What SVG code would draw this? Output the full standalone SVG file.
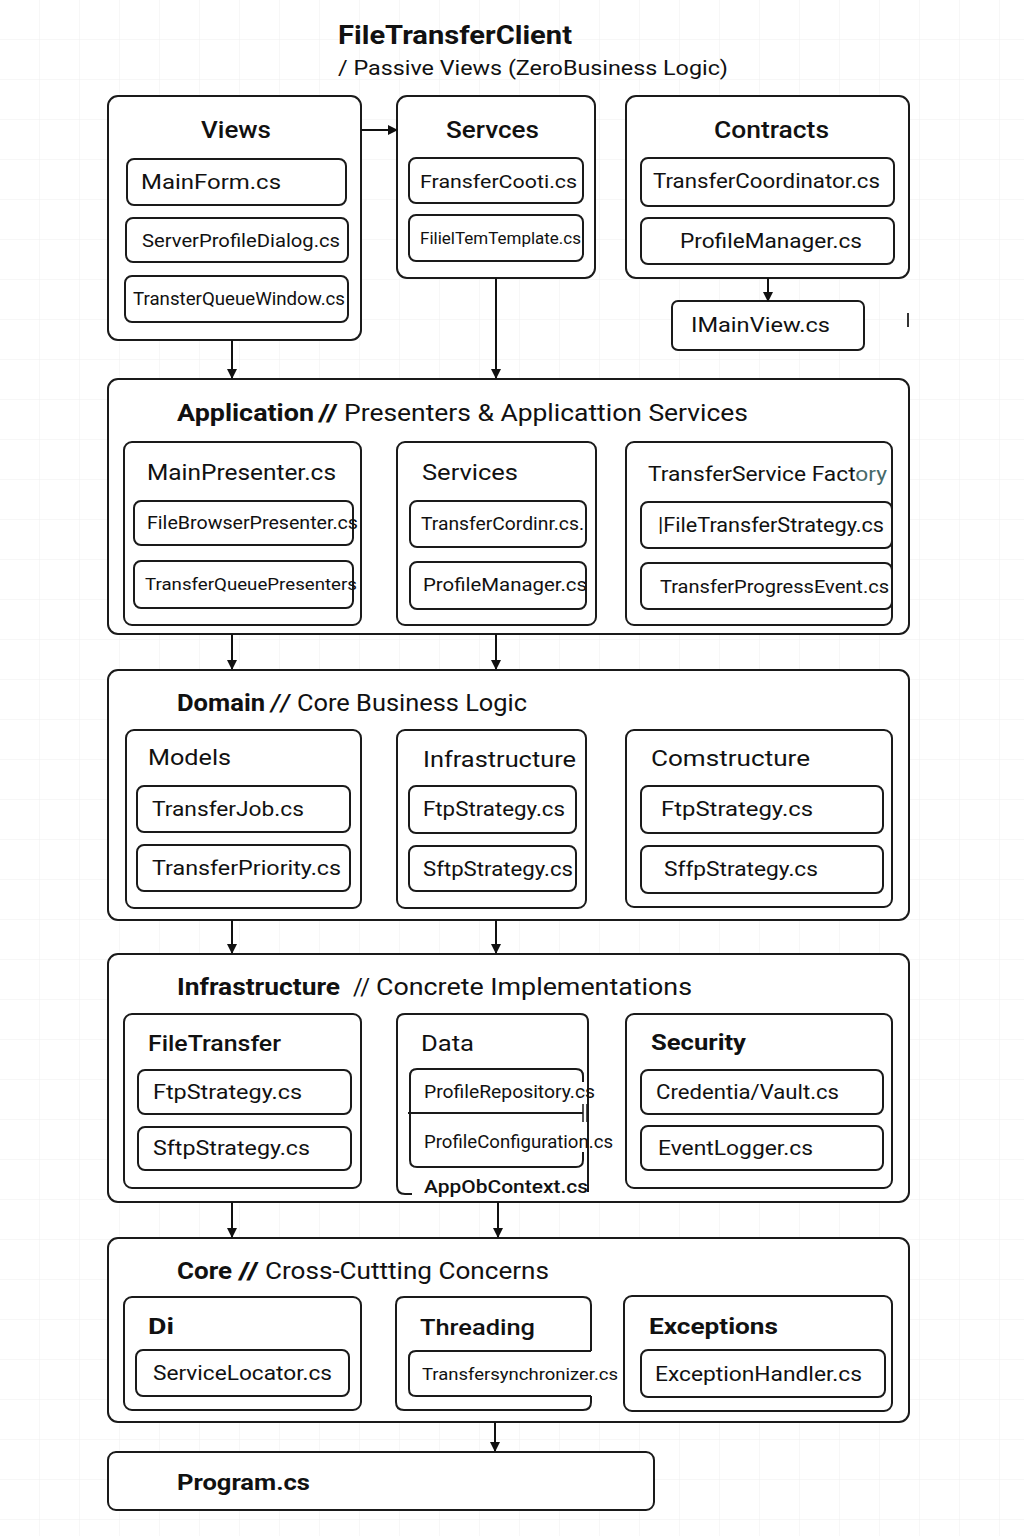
<svg xmlns="http://www.w3.org/2000/svg" width="1024" height="1536" viewBox="0 0 1024 1536">
<defs>
<pattern id="grid" width="40" height="40" patternUnits="userSpaceOnUse">
<path d="M40 0V40M0 40H40" fill="none" stroke="#efefef" stroke-width="1"/>
</pattern>
<marker id="arr" markerWidth="10" markerHeight="10" refX="9" refY="5" orient="auto" markerUnits="userSpaceOnUse">
<path d="M0 0L10 5L0 10Z" fill="#111"/>
</marker>
<style>
.box{fill:#fff;stroke:#1a1a1a;stroke-width:2}
.open{fill:none;stroke:#1a1a1a;stroke-width:2}
.t{font-family:Roboto,"Noto Sans","Liberation Sans",sans-serif;fill:#111}
.b{font-weight:bold}
.m{font-weight:500}
.c{stroke:#111;stroke-width:2;fill:none;marker-end:url(#arr)}
</style>
</defs>
<rect width="1024" height="1536" fill="#fff"/>
<rect width="1024" height="1536" fill="url(#grid)"/>

<g id="title">
<text class="t b" x="338" y="44" font-size="26" textLength="234" lengthAdjust="spacingAndGlyphs">FileTransferClient</text>
<text class="t" x="338" y="75" font-size="21" textLength="390" lengthAdjust="spacingAndGlyphs">/ Passive Views (ZeroBusiness Logic)</text>
</g>

<g id="views">
<rect class="box" x="108" y="96" width="253" height="244" rx="10"/>
<text class="t m" x="201" y="138" font-size="23" textLength="70" lengthAdjust="spacingAndGlyphs">Views</text>
<rect class="box" x="127" y="159" width="219" height="46" rx="7"/>
<text class="t" x="141" y="189" font-size="21" textLength="140" lengthAdjust="spacingAndGlyphs">MainForm.cs</text>
<rect class="box" x="126" y="218" width="222" height="44" rx="7"/>
<text class="t" x="142" y="247" font-size="19" textLength="198" lengthAdjust="spacingAndGlyphs">ServerProfileDialog.cs</text>
<rect class="box" x="125" y="276" width="223" height="46" rx="7"/>
<text class="t" x="133" y="305" font-size="18" textLength="212" lengthAdjust="spacingAndGlyphs">TransterQueueWindow.cs</text>
</g>

<g id="servces">
<rect class="box" x="397" y="96" width="198" height="182" rx="10"/>
<text class="t m" x="446" y="138" font-size="23" textLength="93" lengthAdjust="spacingAndGlyphs">Servces</text>
<rect class="box" x="409" y="158" width="174" height="45" rx="7"/>
<text class="t" x="420" y="188" font-size="19" textLength="157" lengthAdjust="spacingAndGlyphs">FransferCooti.cs</text>
<rect class="box" x="409" y="215" width="174" height="46" rx="7"/>
<text class="t" x="420" y="244" font-size="17" textLength="161" lengthAdjust="spacingAndGlyphs">FilielTemTemplate.cs</text>
</g>

<g id="contracts">
<rect class="box" x="626" y="96" width="283" height="182" rx="10"/>
<text class="t m" x="714" y="138" font-size="23" textLength="115" lengthAdjust="spacingAndGlyphs">Contracts</text>
<rect class="box" x="641" y="158" width="253" height="48" rx="7"/>
<text class="t" x="653" y="188" font-size="20" textLength="227" lengthAdjust="spacingAndGlyphs">TransferCoordinator.cs</text>
<rect class="box" x="641" y="218" width="253" height="46" rx="7"/>
<text class="t" x="680" y="248" font-size="21" textLength="182" lengthAdjust="spacingAndGlyphs">ProfileManager.cs</text>
</g>

<g id="imainview">
<rect class="box" x="672" y="301" width="192" height="49" rx="6"/>
<text class="t" x="691" y="332" font-size="21" textLength="139" lengthAdjust="spacingAndGlyphs">IMainView.cs</text>
<line x1="908" y1="313" x2="908" y2="327" stroke="#333" stroke-width="2"/>
</g>

<g id="application">
<rect class="box" x="108" y="379" width="801" height="255" rx="10"/>
<text class="t" x="177" y="421" font-size="23"><tspan class="b" textLength="137" lengthAdjust="spacingAndGlyphs">Application</tspan><tspan class="b" x="318" textLength="20" lengthAdjust="spacingAndGlyphs">//</tspan><tspan x="344" textLength="404" lengthAdjust="spacingAndGlyphs">Presenters &amp; Applicattion Services</tspan></text>
<rect class="box" x="124" y="442" width="237" height="183" rx="8"/>
<text class="t" x="147" y="480" font-size="22" textLength="189" lengthAdjust="spacingAndGlyphs">MainPresenter.cs</text>
<rect class="box" x="134" y="501" width="219" height="44" rx="7"/>
<text class="t" x="147" y="529" font-size="18" textLength="211" lengthAdjust="spacingAndGlyphs">FileBrowserPresenter.cs</text>
<rect class="box" x="134" y="561" width="219" height="47" rx="7"/>
<text class="t" x="145" y="590" font-size="17" textLength="212" lengthAdjust="spacingAndGlyphs">TransferQueuePresenters</text>
<rect class="box" x="397" y="442" width="199" height="183" rx="8"/>
<text class="t" x="422" y="480" font-size="22" textLength="96" lengthAdjust="spacingAndGlyphs">Services</text>
<rect class="box" x="410" y="501" width="176" height="46" rx="7"/>
<text class="t" x="421" y="530" font-size="18" textLength="163" lengthAdjust="spacingAndGlyphs">TransferCordinr.cs.</text>
<rect class="box" x="410" y="562" width="176" height="47" rx="7"/>
<text class="t" x="423" y="591" font-size="19" textLength="164" lengthAdjust="spacingAndGlyphs">ProfileManager.cs</text>
<rect class="box" x="626" y="442" width="266" height="183" rx="8"/>
<text class="t" x="648" y="481" font-size="21" textLength="239" lengthAdjust="spacingAndGlyphs">TransferService Fact<tspan fill="#466a6a">ory</tspan></text>
<rect class="box" x="641" y="502" width="251" height="46" rx="7"/>
<text class="t" x="658" y="532" font-size="20" textLength="226" lengthAdjust="spacingAndGlyphs">|FileTransferStrategy.cs</text>
<rect class="box" x="641" y="563" width="251" height="46" rx="7"/>
<text class="t" x="660" y="593" font-size="19" textLength="229" lengthAdjust="spacingAndGlyphs">TransferProgressEvent.cs</text>
</g>

<g id="domain">
<rect class="box" x="108" y="670" width="801" height="250" rx="10"/>
<text class="t" x="177" y="711" font-size="23"><tspan class="b" textLength="88" lengthAdjust="spacingAndGlyphs">Domain</tspan><tspan x="269" textLength="23" lengthAdjust="spacingAndGlyphs">//</tspan><tspan x="297" textLength="230" lengthAdjust="spacingAndGlyphs">Core Business Logic</tspan></text>
<rect class="box" x="126" y="730" width="235" height="178" rx="8"/>
<text class="t" x="148" y="765" font-size="22" textLength="83" lengthAdjust="spacingAndGlyphs">Models</text>
<rect class="box" x="137" y="786" width="213" height="46" rx="7"/>
<text class="t" x="152" y="816" font-size="21" textLength="152" lengthAdjust="spacingAndGlyphs">TransferJob.cs</text>
<rect class="box" x="137" y="845" width="213" height="46" rx="7"/>
<text class="t" x="152" y="875" font-size="21" textLength="189" lengthAdjust="spacingAndGlyphs">TransferPriority.cs</text>
<rect class="box" x="397" y="730" width="189" height="178" rx="8"/>
<text class="t" x="423" y="767" font-size="22" textLength="153" lengthAdjust="spacingAndGlyphs">Infrastructure</text>
<rect class="box" x="409" y="786" width="167" height="47" rx="7"/>
<text class="t" x="423" y="816" font-size="20" textLength="142" lengthAdjust="spacingAndGlyphs">FtpStrategy.cs</text>
<rect class="box" x="409" y="846" width="167" height="45" rx="7"/>
<text class="t" x="423" y="876" font-size="20" textLength="150" lengthAdjust="spacingAndGlyphs">SftpStrategy.cs</text>
<rect class="box" x="626" y="730" width="266" height="177" rx="8"/>
<text class="t" x="651" y="766" font-size="22" textLength="159" lengthAdjust="spacingAndGlyphs">Comstructure</text>
<rect class="box" x="641" y="786" width="242" height="47" rx="7"/>
<text class="t" x="661" y="816" font-size="20" textLength="152" lengthAdjust="spacingAndGlyphs">FtpStrategy.cs</text>
<rect class="box" x="641" y="846" width="242" height="47" rx="7"/>
<text class="t" x="664" y="876" font-size="20" textLength="154" lengthAdjust="spacingAndGlyphs">SffpStrategy.cs</text>
</g>

<g id="infrastructure">
<rect class="box" x="108" y="954" width="801" height="248" rx="10"/>
<text class="t" x="177" y="995" font-size="23"><tspan class="b" textLength="163" lengthAdjust="spacingAndGlyphs">Infrastructure</tspan><tspan x="353" textLength="17" lengthAdjust="spacingAndGlyphs">//</tspan><tspan x="376" textLength="316" lengthAdjust="spacingAndGlyphs">Concrete Implementations</tspan></text>
<rect class="box" x="124" y="1014" width="237" height="174" rx="8"/>
<text class="t m" x="148" y="1051" font-size="22" textLength="133" lengthAdjust="spacingAndGlyphs">FileTransfer</text>
<rect class="box" x="138" y="1070" width="213" height="44" rx="7"/>
<text class="t" x="153" y="1099" font-size="20" textLength="149" lengthAdjust="spacingAndGlyphs">FtpStrategy.cs</text>
<rect class="box" x="138" y="1127" width="213" height="43" rx="7"/>
<text class="t" x="153" y="1155" font-size="20" textLength="157" lengthAdjust="spacingAndGlyphs">SftpStrategy.cs</text>
<path class="open" d="M412 1194H405Q397 1194 397 1186V1022Q397 1014 405 1014H580Q588 1014 588 1022V1192"/>
<text class="t" x="421" y="1051" font-size="22" textLength="53" lengthAdjust="spacingAndGlyphs">Data</text>
<path class="open" d="M583 1082V1076Q583 1069 576 1069H417Q410 1069 410 1076V1160Q410 1167 417 1167H576Q583 1167 583 1160V1152"/>
<line x1="408" y1="1113" x2="583" y2="1113" stroke="#1a1a1a" stroke-width="2"/>
<line x1="583" y1="1104" x2="583" y2="1122" stroke="#1a1a1a" stroke-width="1.5"/>
<line x1="587" y1="1104" x2="587" y2="1122" stroke="#1a1a1a" stroke-width="1.5"/>
<text class="t" x="424" y="1098" font-size="18" textLength="171" lengthAdjust="spacingAndGlyphs">ProfileRepository.cs</text>
<text class="t" x="424" y="1148" font-size="18" textLength="189" lengthAdjust="spacingAndGlyphs">ProfileConfiguration.cs</text>
<text class="t m" x="424" y="1193" font-size="19" textLength="164" lengthAdjust="spacingAndGlyphs">AppObContext.cs</text>
<rect class="box" x="626" y="1014" width="266" height="174" rx="8"/>
<text class="t b" x="651" y="1050" font-size="22" textLength="95" lengthAdjust="spacingAndGlyphs">Security</text>
<rect class="box" x="641" y="1070" width="242" height="44" rx="7"/>
<text class="t" x="656" y="1099" font-size="20" textLength="183" lengthAdjust="spacingAndGlyphs">Credentia/Vault.cs</text>
<rect class="box" x="641" y="1126" width="242" height="44" rx="7"/>
<text class="t" x="658" y="1155" font-size="20" textLength="155" lengthAdjust="spacingAndGlyphs">EventLogger.cs</text>
</g>

<g id="core">
<rect class="box" x="108" y="1238" width="801" height="184" rx="10"/>
<text class="t" x="177" y="1279" font-size="23"><tspan class="b" textLength="55" lengthAdjust="spacingAndGlyphs">Core</tspan><tspan class="b" x="238" textLength="21" lengthAdjust="spacingAndGlyphs">//</tspan><tspan x="265" textLength="284" lengthAdjust="spacingAndGlyphs">Cross-Cuttting Concerns</tspan></text>
<rect class="box" x="124" y="1297" width="237" height="113" rx="8"/>
<text class="t b" x="148" y="1334" font-size="22" textLength="26" lengthAdjust="spacingAndGlyphs">Di</text>
<rect class="box" x="136" y="1350" width="213" height="46" rx="7"/>
<text class="t" x="153" y="1380" font-size="20" textLength="179" lengthAdjust="spacingAndGlyphs">ServiceLocator.cs</text>
<path class="open" d="M591 1351V1305Q591 1297 583 1297H404Q396 1297 396 1305V1402Q396 1410 404 1410H583Q591 1410 591 1402V1396"/>
<path class="open" d="M591 1351H416Q409 1351 409 1358V1389Q409 1396 416 1396H591"/>
<text class="t m" x="420" y="1335" font-size="22" textLength="115" lengthAdjust="spacingAndGlyphs">Threading</text>
<text class="t" x="422" y="1380" font-size="17" textLength="196" lengthAdjust="spacingAndGlyphs">Transfersynchronizer.cs</text>
<rect class="box" x="624" y="1296" width="268" height="115" rx="8"/>
<text class="t b" x="649" y="1334" font-size="22" textLength="129" lengthAdjust="spacingAndGlyphs">Exceptions</text>
<rect class="box" x="641" y="1350" width="244" height="47" rx="7"/>
<text class="t" x="655" y="1381" font-size="20" textLength="207" lengthAdjust="spacingAndGlyphs">ExceptionHandler.cs</text>
</g>

<g id="program">
<rect class="box" x="108" y="1452" width="546" height="58" rx="8"/>
<text class="t b" x="177" y="1490" font-size="22" textLength="133" lengthAdjust="spacingAndGlyphs">Program.cs</text>
</g>

<g id="connectors">
<line class="c" x1="361" y1="130" x2="397" y2="130"/>
<line class="c" x1="768" y1="278" x2="768" y2="301"/>
<line class="c" x1="232" y1="340" x2="232" y2="378"/>
<line class="c" x1="496" y1="278" x2="496" y2="378"/>
<line class="c" x1="232" y1="634" x2="232" y2="669"/>
<line class="c" x1="496" y1="634" x2="496" y2="669"/>
<line class="c" x1="232" y1="920" x2="232" y2="953"/>
<line class="c" x1="496" y1="920" x2="496" y2="953"/>
<line class="c" x1="232" y1="1202" x2="232" y2="1237"/>
<line class="c" x1="498" y1="1202" x2="498" y2="1237"/>
<line class="c" x1="495" y1="1422" x2="495" y2="1451"/>
</g>
</svg>
